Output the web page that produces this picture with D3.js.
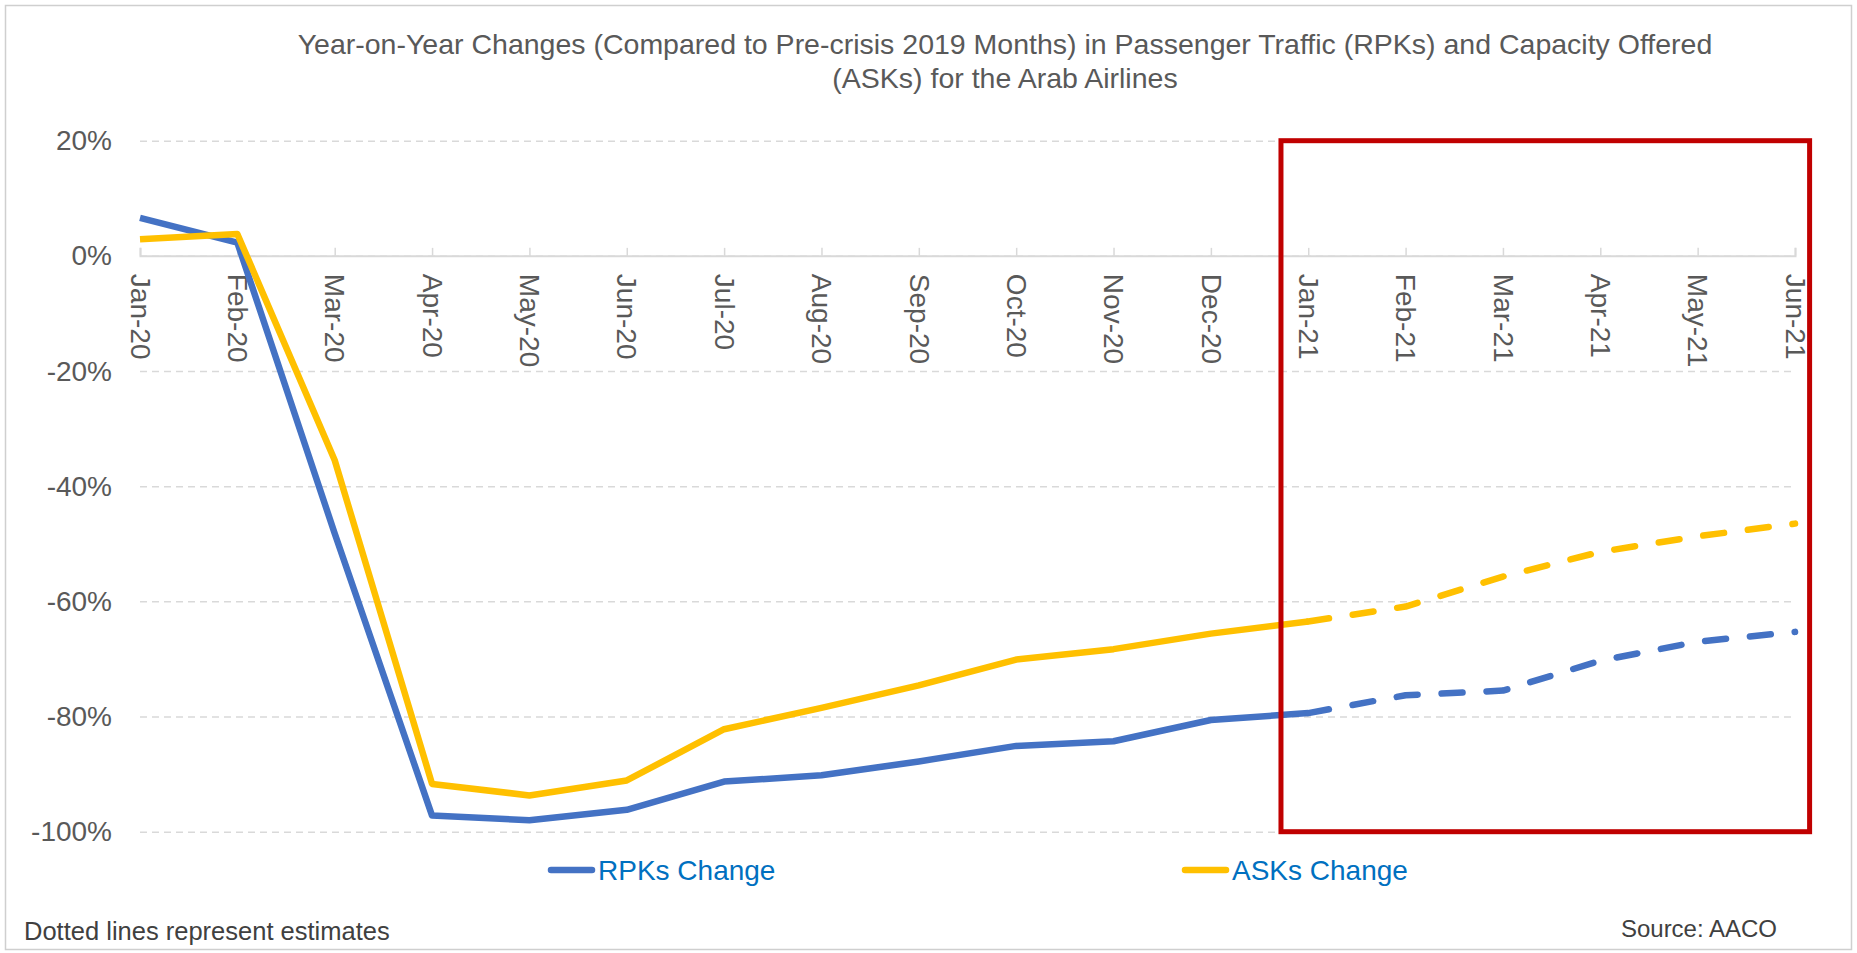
<!DOCTYPE html>
<html>
<head>
<meta charset="utf-8">
<script src="https://cdn.jsdelivr.net/npm/d3@7"></script>
<style>
  body { margin: 0; background: #fff; }
  svg { display: block; font-family: "Liberation Sans", Arial, sans-serif; }
</style>
</head>
<body>
<div id="chart"></div>
<script>
// months on the x axis
const months = ["Jan-20","Feb-20","Mar-20","Apr-20","May-20","Jun-20","Jul-20","Aug-20","Sep-20","Oct-20","Nov-20","Dec-20",
                "Jan-21","Feb-21","Mar-21","Apr-21","May-21","Jun-21"];
// % change vs 2019
const rpks = [6.6, 2.3, -48.2, -97.2, -98.0, -96.2, -91.3, -90.2, -87.8, -85.1, -84.3, -80.6,
              -79.4, -76.3, -75.5, -70.3, -67.0, -65.3];
const asks = [2.9, 3.8, -35.5, -91.7, -93.7, -91.1, -82.2, -78.5, -74.6, -70.1, -68.3, -65.6,
              -63.5, -60.9, -55.7, -51.4, -48.7, -46.5];
const yTicks = [20, 0, -20, -40, -60, -80, -100];
const firstEstimate = "Jan-21";   // from here on the lines are dashed
const seriesNames = ["RPKs Change", "ASKs Change"];
const seriesColors = ["#4472C4", "#FFC000"];

const W = 1857, H = 953;
const svg = d3.select("#chart").append("svg")
  .attr("width", W)
  .attr("height", H);

// chart border
svg.append("rect")
  .attr("x", 5.5).attr("y", 5.5)
  .attr("width", W - 11).attr("height", H - 9)
  .attr("fill", "#fff")
  .attr("stroke", "#cfcfcf")
  .attr("stroke-width", 1.5);

// title
const title = svg.append("text")
  .attr("text-anchor", "middle")
  .attr("fill", "#595959")
  .style("font-size", "28.5px");
title.append("tspan").attr("x", 1005).attr("y", 54)
  .text("Year-on-Year Changes (Compared to Pre-crisis 2019 Months) in Passenger Traffic (RPKs) and Capacity Offered");
title.append("tspan").attr("x", 1005).attr("y", 88)
  .text("(ASKs) for the Arab Airlines");

const x = d3.scalePoint()
  .domain(months)
  .range([140, 1795]);

const y = d3.scaleLinear()
  .domain([-100, 20])
  .range([831.7, 140.7]);

// gridlines + y labels
const yAxis = svg.append("g")
  .attr("transform", "translate(140,0)")
  .call(d3.axisLeft(y)
    .tickValues(yTicks)
    .tickSize(-(1795 - 140))
    .tickPadding(28)
    .tickFormat(d => d + "%"));
yAxis.select(".domain").remove();
yAxis.selectAll("line")
  .attr("stroke", "#d9d9d9")
  .attr("stroke-width", 1.5)
  .attr("stroke-dasharray", "7,5");
yAxis.selectAll("text")
  .attr("fill", "#595959")
  .style("font-size", "28px");

// x axis at 0% with ticks pointing up
const xAxis = svg.append("g")
  .attr("transform", "translate(0," + y(0) + ")")
  .call(d3.axisBottom(x).tickSize(-8));
xAxis.select(".domain")
  .attr("stroke", "#d9d9d9")
  .attr("stroke-width", 2);
xAxis.selectAll("line")
  .attr("stroke", "#d9d9d9")
  .attr("stroke-width", 1.5);
xAxis.selectAll("text")
  .attr("transform", "rotate(90)")
  .attr("x", 18)
  .attr("y", 0)
  .attr("dy", "0.35em")
  .style("text-anchor", "start")
  .attr("fill", "#595959")
  .style("font-size", "28px");

// lines
const line = d3.line()
  .x(d => x(d.m))
  .y(d => y(d.v));

const split = months.indexOf(firstEstimate);
[rpks, asks].forEach((vals, k) => {
  const pts = months.map((m, i) => ({ m: m, v: vals[i] }));
  svg.append("path")
    .datum(pts.slice(0, split + 1))
    .attr("d", line)
    .attr("fill", "none")
    .attr("stroke", seriesColors[k])
    .attr("stroke-width", 6.5)
    .attr("stroke-linejoin", "round");
  svg.append("path")
    .datum(pts.slice(split))
    .attr("d", line)
    .attr("fill", "none")
    .attr("stroke", seriesColors[k])
    .attr("stroke-width", 6.5)
    .attr("stroke-linejoin", "round")
    .attr("stroke-linecap", "round")
    .attr("stroke-dasharray", "21,24");
});

// red highlight box around the 2021 part
const step = x.step();
svg.append("rect")
  .attr("x", x("Dec-20") + 0.72 * step)
  .attr("y", y(20))
  .attr("width", x("Jun-21") + 0.15 * step - (x("Dec-20") + 0.72 * step))
  .attr("height", y(-100) - y(20))
  .attr("fill", "none")
  .attr("stroke", "#C00000")
  .attr("stroke-width", 5);

// legend
const legendX = [551, 1185];
seriesNames.forEach((name, k) => {
  const g = svg.append("g").attr("transform", "translate(" + legendX[k] + ",870)");
  g.append("line")
    .attr("x1", 0).attr("x2", 41)
    .attr("stroke", seriesColors[k])
    .attr("stroke-width", 6.5)
    .attr("stroke-linecap", "round");
  g.append("text")
    .attr("x", 47)
    .attr("dy", "0.35em")
    .attr("fill", "#0070C0")
    .style("font-size", "28px")
    .text(name);
});

// footnotes
svg.append("text")
  .attr("x", 24).attr("y", 940)
  .attr("fill", "#404040")
  .style("font-size", "25.5px")
  .text("Dotted lines represent estimates");
svg.append("text")
  .attr("x", 1777).attr("y", 937)
  .attr("text-anchor", "end")
  .attr("fill", "#404040")
  .style("font-size", "24px")
  .text("Source: AACO");
</script>
</body>
</html>
